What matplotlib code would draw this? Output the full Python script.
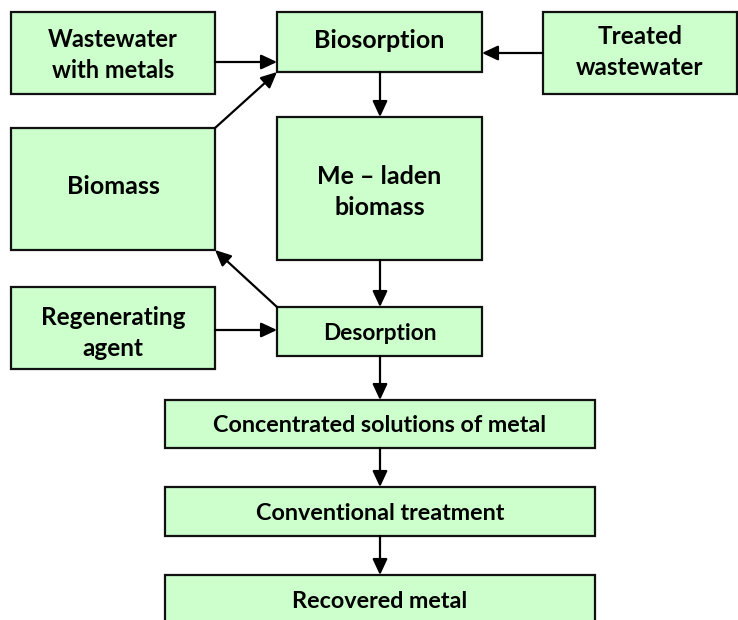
import matplotlib.pyplot as plt
from matplotlib.patches import Rectangle

# flow chart content
labels = ['Wastewater\nwith metals', 'Biosorption', 'Treated\nwastewater',
          'Biomass', 'Me \u2013 laden\nbiomass', 'Regenerating\nagent',
          'Desorption', 'Concentrated solutions of metal',
          'Conventional treatment', 'Recovered metal']
# (from, to) pairs
links = [(0, 1), (2, 1), (3, 1), (1, 4), (4, 6), (6, 3), (5, 6),
         (6, 7), (7, 8), (8, 9)]

# layout in pixel units: x0, y0, x1, y1 (y grows downward)
boxes = [(11, 12, 215, 94), (277, 12, 482, 72), (543, 12, 737, 94),
         (11, 128, 215, 250), (277, 117, 482, 260), (11, 287, 215, 369),
         (277, 307, 482, 356), (165, 400, 595, 448), (165, 487, 595, 536),
         (165, 575, 595, 640)]
sizes = [17, 18, 17.5, 18, 18, 17.5, 16.3, 16.8, 16.8, 16.8]
text_y = [55, 40, 52, 186, 192, 333, 333, 425, 513, 601]

# arrow endpoints for each link
arrow_pts = [((215, 62), (277, 62)), ((543, 53), (482, 53)),
             ((215, 128), (277, 72)), ((380, 72), (380, 117)),
             ((380, 260), (380, 307)), ((277, 307), (215, 250)),
             ((215, 330), (277, 330)), ((380, 356), (380, 400)),
             ((380, 448), (380, 487)), ((380, 536), (380, 575))]

fill = '#ccffcc'

fig = plt.figure(figsize=(7.38, 6.2), dpi=100)
ax = fig.add_axes([0, 0, 1, 1])
ax.set_xlim(0, 738)
ax.set_ylim(620, 0)
ax.axis('off')

for i, lab in enumerate(labels):
    x0, y0, x1, y1 = boxes[i]
    ax.add_patch(Rectangle((x0, y0), x1 - x0, y1 - y0, facecolor=fill,
                           edgecolor='#111111', linewidth=1.6, clip_on=False))
    ax.text((x0 + x1) / 2, text_y[i], lab, ha='center', va='center',
            fontsize=sizes[i], fontweight='bold', family='Lato',
            linespacing=1.45, color='black')

for k, (a, b) in enumerate(links):
    start, end = arrow_pts[k]
    ax.annotate('', xy=end, xytext=start,
                arrowprops=dict(arrowstyle='-|>,head_length=0.6,head_width=0.28',
                                color='black', lw=1.6,
                                mutation_scale=16, shrinkA=0, shrinkB=0))

fig.savefig('out.png', dpi=100)
